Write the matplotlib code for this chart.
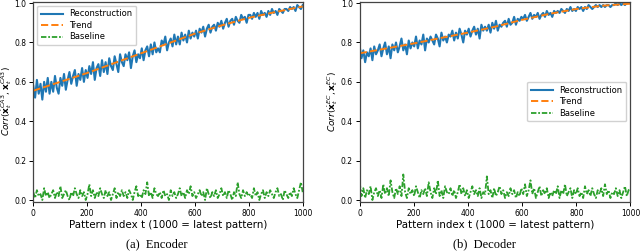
import numpy as np
import matplotlib
matplotlib.use('Agg')
from matplotlib import pyplot as plt

#%% DATA

trend_t = [0, 100, 200, 300, 400, 500, 600, 700, 800, 900, 1000]
enc_trend = [0.555, 0.600, 0.645, 0.695, 0.745, 0.795, 0.845, 0.887, 0.925, 0.955, 0.983]
dec_trend = [0.745, 0.770, 0.795, 0.823, 0.850, 0.880, 0.915, 0.945, 0.970, 0.987, 0.997]

enc_recon = [
    0.58, 0.52, 0.61, 0.54, 0.59, 0.51, 0.60, 0.55, 0.62, 0.54,
    0.60, 0.55, 0.63, 0.57, 0.54, 0.62, 0.58, 0.64, 0.56, 0.61,
    0.65, 0.59, 0.63, 0.66, 0.58, 0.64, 0.61, 0.67, 0.60, 0.66,
    0.62, 0.68, 0.64, 0.70, 0.61, 0.67, 0.69, 0.63, 0.71, 0.65,
    0.70, 0.64, 0.72, 0.68, 0.66, 0.73, 0.69, 0.65, 0.74, 0.70,
    0.68, 0.74, 0.71, 0.75, 0.67, 0.73, 0.76, 0.70, 0.74, 0.72,
    0.77, 0.71, 0.76, 0.78, 0.73, 0.79, 0.74, 0.80, 0.75, 0.77,
    0.75, 0.81, 0.79, 0.83, 0.76, 0.80, 0.82, 0.78, 0.84, 0.79,
    0.83, 0.79, 0.85, 0.81, 0.84, 0.80, 0.86, 0.82, 0.85, 0.83,
    0.86, 0.82, 0.87, 0.85, 0.88, 0.83, 0.87, 0.89, 0.85, 0.88,
    0.89, 0.86, 0.90, 0.88, 0.91, 0.87, 0.90, 0.92, 0.88, 0.91,
    0.92, 0.89, 0.93, 0.91, 0.90, 0.94, 0.92, 0.93, 0.90, 0.94,
    0.94, 0.92, 0.95, 0.93, 0.95, 0.92, 0.96, 0.94, 0.95, 0.93,
    0.96, 0.94, 0.97, 0.95, 0.96, 0.94, 0.97, 0.96, 0.95, 0.97,
    0.97, 0.96, 0.98, 0.97, 0.98, 0.96, 0.99, 0.98, 0.97, 0.99,
]

dec_recon = [
    0.78, 0.72, 0.76, 0.70, 0.75, 0.73, 0.77, 0.71, 0.78, 0.74,
    0.76, 0.79, 0.73, 0.77, 0.80, 0.74, 0.78, 0.72, 0.79, 0.76,
    0.80, 0.75, 0.78, 0.82, 0.76, 0.79, 0.74, 0.81, 0.77, 0.80,
    0.78, 0.83, 0.77, 0.81, 0.79, 0.84, 0.76, 0.82, 0.80, 0.83,
    0.81, 0.79, 0.84, 0.82, 0.78, 0.85, 0.81, 0.83, 0.80, 0.84,
    0.83, 0.86, 0.81, 0.85, 0.82, 0.87, 0.84, 0.80, 0.86, 0.84,
    0.87, 0.83, 0.86, 0.88, 0.84, 0.87, 0.82, 0.89, 0.86, 0.88,
    0.86, 0.89, 0.85, 0.90, 0.87, 0.91, 0.86, 0.89, 0.88, 0.90,
    0.91, 0.88, 0.92, 0.89, 0.90, 0.93, 0.89, 0.92, 0.91, 0.93,
    0.92, 0.94, 0.91, 0.93, 0.95, 0.92, 0.94, 0.93, 0.95, 0.92,
    0.94, 0.95, 0.93, 0.96, 0.94, 0.95, 0.93, 0.96, 0.95, 0.96,
    0.95, 0.97, 0.96, 0.95, 0.97, 0.96, 0.98, 0.96, 0.97, 0.96,
    0.98, 0.97, 0.98, 0.96, 0.98, 0.97, 0.99, 0.98, 0.97, 0.98,
    0.99, 0.98, 0.99, 0.98, 0.99, 0.98, 0.99, 0.99, 0.98, 0.99,
    0.99, 1.00, 0.99, 1.00, 0.99, 1.00, 0.99, 1.00, 1.00, 1.00,
]

enc_base = [
    0.04, 0.01, 0.05, 0.02, 0.03, 0.00, 0.06, 0.02, 0.04, 0.01,
    0.03, 0.05, 0.01, 0.04, 0.02, 0.07, 0.01, 0.03, 0.05, 0.02,
    0.00, 0.04, 0.02, 0.06, 0.03, 0.01, 0.05, 0.02, 0.04, 0.00,
    0.03, 0.08, 0.02, 0.05, 0.01, 0.04, 0.02, 0.06, 0.03, 0.01,
    0.05, 0.02, 0.04, 0.00, 0.03, 0.06, 0.01, 0.04, 0.02, 0.05,
    0.02, 0.04, 0.01, 0.05, 0.03, 0.00, 0.04, 0.07, 0.02, 0.03,
    0.01, 0.05, 0.03, 0.09, 0.02, 0.04, 0.01, 0.06, 0.03, 0.02,
    0.04, 0.01, 0.05, 0.02, 0.03, 0.00, 0.05, 0.02, 0.04, 0.01,
    0.03, 0.06, 0.02, 0.04, 0.01, 0.05, 0.03, 0.07, 0.02, 0.04,
    0.01, 0.03, 0.05, 0.02, 0.04, 0.00, 0.06, 0.03, 0.01, 0.04,
    0.02, 0.05, 0.01, 0.03, 0.06, 0.02, 0.04, 0.01, 0.05, 0.03,
    0.00, 0.04, 0.02, 0.09, 0.03, 0.01, 0.05, 0.02, 0.04, 0.02,
    0.03, 0.01, 0.06, 0.02, 0.04, 0.00, 0.03, 0.05, 0.01, 0.04,
    0.02, 0.05, 0.03, 0.01, 0.04, 0.06, 0.02, 0.03, 0.00, 0.05,
    0.03, 0.01, 0.04, 0.02, 0.06, 0.03, 0.01, 0.05, 0.09, 0.04,
]

dec_base = [
    0.09, 0.02, 0.06, 0.01, 0.05, 0.03, 0.07, 0.00, 0.04, 0.06,
    0.02, 0.05, 0.01, 0.08, 0.03, 0.06, 0.02, 0.10, 0.04, 0.01,
    0.06, 0.03, 0.07, 0.02, 0.13, 0.04, 0.01, 0.06, 0.03, 0.05,
    0.02, 0.07, 0.04, 0.01, 0.05, 0.03, 0.06, 0.02, 0.09, 0.04,
    0.01, 0.06, 0.03, 0.10, 0.02, 0.05, 0.01, 0.07, 0.04, 0.03,
    0.06, 0.02, 0.05, 0.01, 0.04, 0.08, 0.03, 0.06, 0.02, 0.05,
    0.01, 0.04, 0.07, 0.03, 0.05, 0.02, 0.06, 0.01, 0.04, 0.03,
    0.12, 0.03, 0.05, 0.01, 0.06, 0.02, 0.04, 0.07, 0.03, 0.05,
    0.01, 0.04, 0.02, 0.06, 0.03, 0.05, 0.01, 0.04, 0.02, 0.06,
    0.03, 0.08, 0.02, 0.05, 0.10, 0.03, 0.06, 0.01, 0.04, 0.07,
    0.02, 0.05, 0.03, 0.06, 0.01, 0.04, 0.02, 0.05, 0.03, 0.07,
    0.01, 0.05, 0.03, 0.08, 0.02, 0.04, 0.06, 0.01, 0.05, 0.03,
    0.06, 0.02, 0.04, 0.01, 0.07, 0.03, 0.05, 0.02, 0.06, 0.03,
    0.01, 0.05, 0.03, 0.06, 0.02, 0.08, 0.03, 0.05, 0.01, 0.04,
    0.03, 0.06, 0.02, 0.05, 0.01, 0.04, 0.07, 0.02, 0.05, 0.06,
]

#%% PLOT

fig = plt.figure(figsize=(6.4, 2.52), dpi=100)
ax1 = fig.add_axes([0.052, 0.200, 0.421, 0.794])
ax2 = fig.add_axes([0.562, 0.200, 0.423, 0.794])

panels = [
    (ax1, enc_recon, enc_trend, enc_base, 'CA3', 'upper left', '(a)  Encoder'),
    (ax2, dec_recon, dec_trend, dec_base, 'EC', 'center right', '(b)  Decoder'),
]

for ax, recon, trend, base, tag, loc, caption in panels:
    t = np.linspace(0, 1000, len(recon))
    tb = np.linspace(0, 1000, len(base))
    ax.plot(t, recon, '-', color='#1f77b4', linewidth=1.5, label='Reconstruction')
    ax.plot(trend_t, trend, '--', color='#ff7f0e', linewidth=1.4, label='Trend')
    ax.plot(tb, base, '-.', color='#2ca02c', linewidth=1.3, dashes=(3, 1, 1, 1),
            label='Baseline')
    ax.set_xlim(0, 1000)
    ax.set_ylim(-0.008, 1.008)
    ax.set_yticks([0.0, 0.2, 0.4, 0.6, 0.8, 1.0])
    ax.set_xticks([0, 200, 400, 600, 800, 1000])
    ax.tick_params(labelsize=5.5, length=3, width=0.7, pad=2)
    for s in ax.spines.values():
        s.set_color('#444444')
        s.set_linewidth(0.9)
    ax.set_xlabel('Pattern index t (1000 = latest pattern)', fontsize=7.4, labelpad=2)
    ax.set_ylabel(r'$Corr(\dot{\mathbf{x}}_t^{%s}, \mathbf{x}_t^{%s})$' % (tag, tag),
                  fontsize=6.5)
    ax.yaxis.set_label_coords(-0.071, 0.5)
    ax.legend(loc=loc, fontsize=6, handlelength=2.6, borderpad=0.45,
              labelspacing=0.3, framealpha=0.9)
    ax.text(0.46, -0.215, caption, transform=ax.transAxes, ha='center', va='center',
            fontsize=9, family='Liberation Serif')

plt.savefig('out.png', dpi=100)
